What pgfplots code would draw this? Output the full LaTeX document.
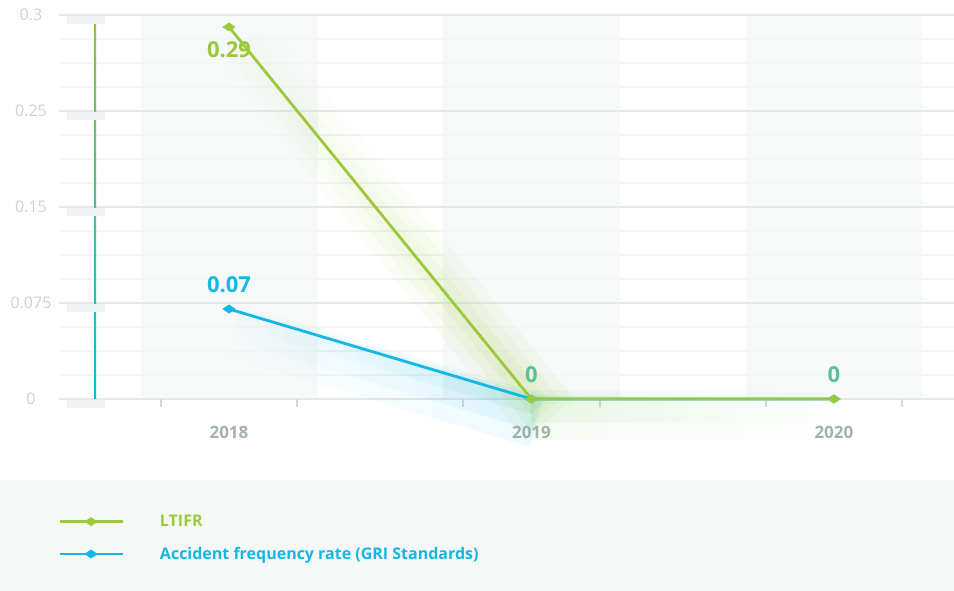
\documentclass[border=0pt]{standalone}
\usepackage{pgfplots}
\pgfplotsset{compat=1.18}
\usepackage{fontspec}
\setmainfont{Open Sans}
\usetikzlibrary{fadings}
\definecolor{ltifr}{HTML}{9CC93A}
\definecolor{afr}{HTML}{12B8E5}
\definecolor{zerolab}{HTML}{5BC194}
\definecolor{gridmaj}{HTML}{E3E8EA}
\definecolor{gridmin}{HTML}{F3F5F6}
\definecolor{band}{HTML}{F7F9F9}
\definecolor{ytl}{HTML}{C8D1D5}
\definecolor{xtl}{HTML}{A3B0B5}
\definecolor{tickc}{HTML}{D3DADD}
\definecolor{legbg}{HTML}{F6F8F8}
\definecolor{stub}{HTML}{F0F3F4}
\definecolor{vtop}{HTML}{8DC63F}
\definecolor{vmid}{HTML}{3DBFA6}
\definecolor{vbot}{HTML}{0BB8E4}
\definecolor{flatglow}{HTML}{7FCB6A}

\begin{document}
\begin{tikzpicture}
\useasboundingbox (-59pt,-192pt) rectangle (895pt,399pt);
\fill[legbg] (-59pt,-192pt) rectangle (895pt,-81pt);
\fill[band] (82pt,0pt) rectangle (259pt,384pt);
\fill[band] (384pt,0pt) rectangle (561pt,384pt);
\fill[band] (687pt,0pt) rectangle (863pt,384pt);
\begin{axis}[
  at={(0pt,0pt)}, anchor=south west,
  scale only axis, width=895pt, height=384pt,
  xmin=-0.562, xmax=2.397, ymin=0, ymax=4,
  clip=false,
  axis line style={draw=none},
  ytick={0,1,2,3,4},
  yticklabels={0,0.075,0.15,0.25,0.3},
  minor y tick num=3,
  ymajorgrids, yminorgrids,
  major grid style={gridmaj, line width=2pt},
  minor grid style={gridmin, line width=1.2pt},
  ytick style={draw=none},
  yticklabel style={anchor=center, xshift=-20pt, text=ytl, font=\fontsize{16}{16}\selectfont},
  xtick={-0.225,0.225,0.775,1.225,1.775,2.225},
  xticklabels={,,,,,},
  xtick pos=left,
  tick align=outside,
  major tick length=8pt,
  xtick style={tickc, line width=2pt},
  extra x ticks={0,1,2},
  extra x tick labels={2018,2019,2020},
  extra x tick style={major tick length=0pt,
     xticklabel style={anchor=center, yshift=-33pt, text=xtl, font=\bfseries\fontsize{17}{17}\selectfont}},
  legend style={at={(0,0)}, anchor=north west, xshift=-4pt, yshift=-114pt, draw=none, fill=none,
     font=\bfseries\fontsize{16}{16}\selectfont, row sep=19pt, column sep=36pt,
     nodes={inner sep=0pt}},
  legend cell align=left,
  reverse legend,
  legend image code/.code={
     \draw[#1, mark=none] (0pt,0pt) -- (63pt,0pt);
     \draw[#1, only marks] plot coordinates {(31.5pt,0pt)};
  },
]
% glows
\addplot[afr, line width=54pt, opacity=0.08, path fading=west, forget plot, mark=none, xshift=6pt, yshift=-22pt] coordinates {(0,0.9375)(1,0)};
\addplot[afr, line width=34pt, opacity=0.09, path fading=west, forget plot, mark=none, xshift=6pt, yshift=-15pt] coordinates {(0,0.9375)(1,0)};
\addplot[afr, line width=16pt, opacity=0.09, path fading=west, forget plot, mark=none, xshift=4pt, yshift=-8pt] coordinates {(0,0.9375)(1,0)};
\addplot[ltifr, line width=64pt, opacity=0.08, path fading=north, forget plot, mark=none, xshift=18pt, yshift=-20pt] coordinates {(0,3.875)(1,0)};
\addplot[ltifr, line width=42pt, opacity=0.09, path fading=north, forget plot, mark=none, xshift=13pt, yshift=-14pt] coordinates {(0,3.875)(1,0)};
\addplot[ltifr, line width=22pt, opacity=0.10, path fading=north, forget plot, mark=none, xshift=8pt, yshift=-8pt] coordinates {(0,3.875)(1,0)};
\addplot[flatglow, line width=50pt, opacity=0.09, path fading=east, forget plot, mark=none, yshift=-16pt] coordinates {(1,0)(2,0)};
\addplot[flatglow, line width=28pt, opacity=0.10, path fading=east, forget plot, mark=none, yshift=-10pt] coordinates {(1,0)(2,0)};

% series
\addplot[afr, line width=2.8pt, mark=diamond*, mark size=3.5pt, mark options={xscale=1.6, yscale=0.8, solid}] coordinates {(0,0.9375)(1,0)(2,0)};
\addlegendentry{\textcolor{afr}{Accident frequency rate (GRI Standards)}}
\addplot[ltifr, line width=2.8pt, mark=diamond*, mark size=3.5pt, mark options={xscale=1.6, yscale=0.8, solid}] coordinates {(0,3.875)(1,0)(2,0)};
\addlegendentry{\textcolor{ltifr}{LTIFR}}

% value labels
\addplot[only marks, mark=*, mark size=0pt, forget plot, nodes near coords, point meta=explicit symbolic,
  every node near coord/.style={anchor=center, yshift=-23pt, text=ltifr, font=\bfseries\fontsize{22}{22}\selectfont}]
  coordinates {(0,3.875) [0.29]};
\addplot[only marks, mark=*, mark size=0pt, forget plot, nodes near coords, point meta=explicit symbolic,
  every node near coord/.style={anchor=center, yshift=24pt, text=afr, font=\bfseries\fontsize{22}{22}\selectfont}]
  coordinates {(0,0.9375) [0.07]};
\addplot[only marks, mark=*, mark size=0pt, forget plot, nodes near coords, point meta=explicit symbolic,
  every node near coord/.style={anchor=center, yshift=24pt, text=zerolab, font=\bfseries\fontsize{22}{22}\selectfont}]
  coordinates {(1,0) [0] (2,0) [0]};
\end{axis}
% left decorative gradient line with stubs
\shade[top color=vtop, middle color=vmid, bottom color=vbot] (35pt,0pt) rectangle (37pt,375pt);
\foreach \g in {0,96,192,288,384} {
  \fill[stub] (8pt,\g pt-1pt) rectangle (46pt,\g pt-9pt);
}
\end{tikzpicture}
\end{document}
